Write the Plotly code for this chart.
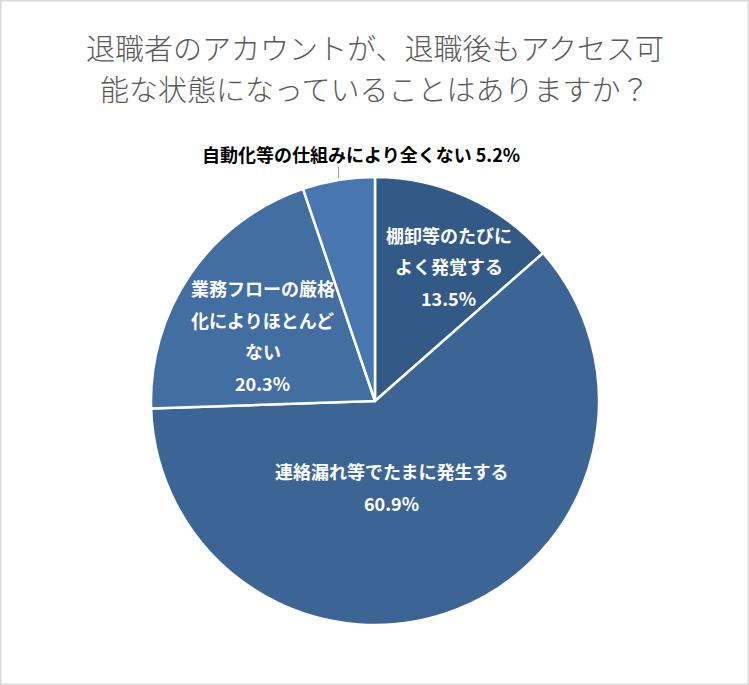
import math
import plotly.graph_objects as go

# data
labels = [
    ["棚卸等のたびに", "よく発覚する"],
    ["連絡漏れ等でたまに発生する"],
    ["業務フローの厳格", "化によりほとんど", "ない"],
    ["自動化等の仕組みにより全くない"],
]
values = [13.5, 60.9, 20.3, 5.2]
colors = ["#335A86", "#3C6596", "#426EA2", "#4877B0"]

TITLE_LINES = ["退職者のアカウントが、退職後もアクセス可", "能な状態になっていることはありますか？"]

W, H = 749, 685
CX, CY, R = 375, 401, 224  # pie centre / radius in px
LINE_H = 31.5

FONT = "Noto Sans CJK JP"


def px_x(x):
    return x / W


def px_y(y):
    return 1 - y / H


fig = go.Figure(
    go.Pie(
        labels=[" ".join(l) for l in labels],
        values=values,
        sort=False,
        direction="clockwise",
        rotation=0,
        marker=dict(colors=colors, line=dict(color="white", width=2.5)),
        textinfo="none",
        hoverinfo="label+percent",
        domain=dict(
            x=[px_x(CX - R), px_x(CX + R)],
            y=[px_y(CY + R), px_y(CY - R)],
        ),
        showlegend=False,
    )
)

# label placement: (radius fraction, angle nudge in degrees) per slice
label_style = [(0.687, 4.4), (0.39, 10.8), (0.58, -4.5), None]

total = sum(values)
cum = 0.0
for i, v in enumerate(values):
    mid = (cum + v / 2) / total * 360
    cum += v
    if label_style[i] is not None:
        rf, nudge = label_style[i]
        a = math.radians(mid + nudge)
        bx = CX + rf * R * math.sin(a)
        by = CY - rf * R * math.cos(a)
        lines = labels[i] + [f"{v:.1f}%"]
        n = len(lines)
        for k, line in enumerate(lines):
            ly = by + (k - (n - 1) / 2) * LINE_H
            fig.add_annotation(
                x=px_x(bx), y=px_y(ly), xref="paper", yref="paper",
                text=f"<b>{line}</b>", showarrow=False,
                font=dict(family=FONT, size=18, color="white"),
                xanchor="center", yanchor="middle",
            )
    else:
        # outside label with short leader line
        a = math.radians(mid)
        ex = CX + R * math.sin(a)
        ey = CY - R * math.cos(a)
        fig.add_shape(
            type="line", xref="paper", yref="paper",
            x0=px_x(ex), x1=px_x(ex), y0=px_y(ey - 2), y1=px_y(ey - 13),
            line=dict(color="#A6A6A6", width=1.2),
        )
        fig.add_annotation(
            x=px_x(361), y=px_y(ey - 26), xref="paper", yref="paper",
            text=f"<b>{labels[i][0]} {v:.1f}%</b>", showarrow=False,
            font=dict(family=FONT, size=18, color="black"),
            xanchor="center", yanchor="middle",
        )

for k, line in enumerate(TITLE_LINES):
    fig.add_annotation(
        x=px_x(375), y=px_y(47 + 41 * k), xref="paper", yref="paper",
        text=line, showarrow=False,
        font=dict(family=FONT, size=29, color="#595959", weight=300),
        xanchor="center", yanchor="middle",
    )

# chart border
fig.add_shape(
    type="rect", xref="paper", yref="paper",
    x0=0.001, x1=0.999, y0=0.001, y1=0.999,
    line=dict(color="#D9D9D9", width=1.5),
)

fig.update_layout(
    width=W,
    height=H,
    margin=dict(l=0, r=0, t=0, b=0),
    paper_bgcolor="white",
    plot_bgcolor="white",
)

fig.write_html(
    "out.html",
    config={"displayModeBar": False},
    post_script="document.body.style.margin='0';",
)
